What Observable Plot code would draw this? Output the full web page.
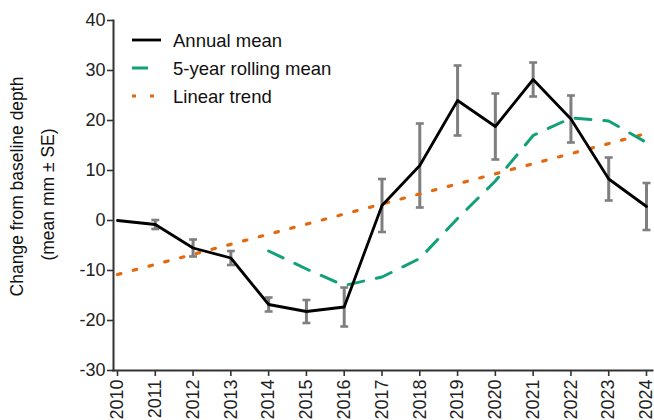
<!DOCTYPE html>
<html>
<head>
<meta charset="utf-8">
<script src="https://cdn.jsdelivr.net/npm/d3@7"></script>
<script src="https://cdn.jsdelivr.net/npm/@observablehq/plot@0.6"></script>
<style>
  html, body { margin: 0; padding: 0; background: white; }
  #wrap { position: relative; width: 654px; height: 420px; overflow: hidden; }
  #legend { position: absolute; left: 0; top: 0; }
</style>
</head>
<body>
<div id="wrap"></div>
<script>
const years = [2010, 2011, 2012, 2013, 2014, 2015, 2016, 2017, 2018, 2019, 2020, 2021, 2022, 2023, 2024];
const annualMean = [0, -0.8, -5.5, -7.5, -16.8, -18.2, -17.3, 3.0, 11.0, 24.0, 18.8, 28.2, 20.3, 8.3, 2.8];
const annualSE = [0, 0.9, 1.7, 1.4, 1.4, 2.3, 3.9, 5.3, 8.4, 7.0, 6.6, 3.4, 4.7, 4.3, 4.7];
const rollingYears = [2014, 2015, 2016, 2017, 2018, 2019, 2020, 2021, 2022, 2023, 2024];
const rollingMean = [-6.1, -9.7, -13.0, -11.3, -7.6, 0.4, 7.9, 17.0, 20.5, 19.9, 15.6];
const trendYears = [2010, 2024];
const trendValues = [-10.8, 17.4];
const yTicks = [-30, -20, -10, 0, 10, 20, 30, 40];
const seriesNames = ["Annual mean", "5-year rolling mean", "Linear trend"];
const yLabelLines = ["Change from baseline depth", "(mean mm \u00B1 SE)"];

const colors = { annual: "#000000", rolling: "#12a079", trend: "#e2690e", err: "#7f7f7f", axis: "#333333" };
const font = "'Liberation Sans', Arial, Helvetica, sans-serif";

const annual = years.map((year, i) => ({ year, mean: annualMean[i], se: annualSE[i] }));
const errData = annual.filter(d => d.se > 0).map(d => ({ year: d.year, lo: d.mean - d.se, hi: d.mean + d.se }));
const rolling = rollingYears.map((year, i) => ({ year, value: rollingMean[i] }));
const trend = trendYears.map((year, i) => ({ year, value: trendValues[i] }));
const capHalf = 0.105;

const chart = Plot.plot({
  width: 654,
  height: 420,
  marginLeft: 113,
  marginRight: 2,
  marginTop: 20,
  marginBottom: 50,
  style: { fontFamily: font, fontSize: "18px", color: "#222", background: "white", overflow: "visible" },
  x: { domain: [2010, 2024], insetLeft: 4, insetRight: 6 },
  y: { domain: [-30, 40] },
  marks: [
    Plot.axisY({ ticks: yTicks, tickSize: 6, tickPadding: 2, strokeWidth: 1.6, stroke: colors.axis, label: null, tickFormat: d => String(d), fontSize: 18, fill: "#222" }),
    Plot.axisX({ ticks: years, tickSize: 6, tickPadding: 3, tickRotate: -90, strokeWidth: 1.6, stroke: colors.axis, label: null, tickFormat: d => String(d), fontSize: 18, fill: "#222" }),
    Plot.frame({ anchor: "left", stroke: colors.axis, strokeWidth: 2 }),
    Plot.frame({ anchor: "bottom", stroke: colors.axis, strokeWidth: 2 }),
    Plot.text([yLabelLines[0]], { text: d => d, frameAnchor: "left", textAnchor: "middle", rotate: -90, dx: -96, dy: -9, fontSize: 17.5, fill: "#111" }),
    Plot.text([yLabelLines[1]], { text: d => d, frameAnchor: "left", textAnchor: "middle", rotate: -90, dx: -65, dy: -1, fontSize: 17.5, fill: "#111" }),
    Plot.ruleX(errData, { x: "year", y1: "lo", y2: "hi", stroke: colors.err, strokeWidth: 3 }),
    Plot.link(errData, { x1: d => d.year - capHalf, x2: d => d.year + capHalf, y1: "lo", y2: "lo", stroke: colors.err, strokeWidth: 2.6 }),
    Plot.link(errData, { x1: d => d.year - capHalf, x2: d => d.year + capHalf, y1: "hi", y2: "hi", stroke: colors.err, strokeWidth: 2.6 }),
    Plot.line(trend, { x: "year", y: "value", stroke: colors.trend, strokeWidth: 3.2, strokeDasharray: "3.5,12.8" }),
    Plot.line(rolling, { x: "year", y: "value", stroke: colors.rolling, strokeWidth: 3, strokeDasharray: "16,13" }),
    Plot.line(annual, { x: "year", y: "mean", stroke: colors.annual, strokeWidth: 2.8 })
  ]
});

const wrap = document.getElementById("wrap");
wrap.appendChild(chart);

// Legend overlay
const legend = d3.select(wrap).append("svg")
  .attr("id", "legend")
  .attr("width", 654).attr("height", 420)
  .style("font-family", font);
const items = [
  { name: seriesNames[0], stroke: colors.annual, dash: null, x2: 161, width: 2.8 },
  { name: seriesNames[1], stroke: colors.rolling, dash: null, x2: 148, width: 3 },
  { name: seriesNames[2], stroke: colors.trend, dash: "4,14", x2: 155, width: 3.2 }
];
items.forEach((it, i) => {
  const y = 40 + i * 28;
  legend.append("line")
    .attr("x1", 132).attr("x2", it.x2).attr("y1", y).attr("y2", y)
    .attr("stroke", it.stroke).attr("stroke-width", it.width)
    .attr("stroke-dasharray", it.dash);
  legend.append("text")
    .attr("x", 173).attr("y", y).attr("dy", "0.36em")
    .attr("font-size", 18.5).attr("fill", "#111")
    .text(it.name);
});
</script>
</body>
</html>
